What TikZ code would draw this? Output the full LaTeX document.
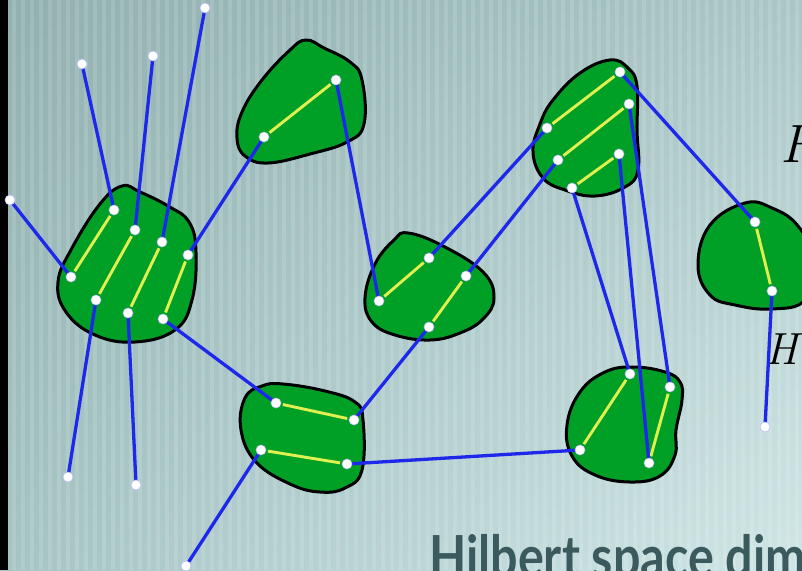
\documentclass[tikz,border=0pt]{standalone}
\usepackage{fontspec}
\usepackage{graphicx}
\usetikzlibrary{shadings}
\newfontfamily\titlefont{Lato}
\definecolor{bgA}{RGB}{146,176,176}
\definecolor{bgB}{RGB}{170,198,198}
\definecolor{bgC}{RGB}{166,196,196}
\definecolor{bgD}{RGB}{208,230,230}
\definecolor{blobgreen}{RGB}{0,160,38}
\definecolor{lineblue}{RGB}{30,40,235}
\definecolor{lineyellow}{RGB}{225,240,80}
\definecolor{titlec}{RGB}{58,90,94}
\pgfdeclarelayer{front}
\pgfsetlayers{main,front}
\begin{document}
\begin{tikzpicture}[x=1pt,y=-1pt,
  blob/.style={fill=blobgreen, draw=black, line width=3pt, line join=round},
  bl/.style={draw=lineblue, line width=3.3pt},
  yl/.style={draw=lineyellow, line width=2.9pt, shorten <=7pt, shorten >=7pt},
  dot/.style={circle, fill=white, draw=lineblue!30, line width=0.6pt, minimum size=10pt, inner sep=0pt},
  mathlbl/.style={anchor=base west, inner sep=0pt, text=black}]
\useasboundingbox (0,0) rectangle (802,570);
\clip (0,0) rectangle (802,570);
% background
\shade[upper left=bgA, upper right=bgB, lower left=bgC, lower right=bgD] (0,0) rectangle (802,570);
\foreach \i in {0,...,88} \fill[white,opacity=0.13] ({12+9*\i},0) rectangle ++(4,570);
\fill[black] (0,0) rectangle (8,570);
% text
\node[anchor=base west, inner sep=0pt, text=titlec, font=\titlefont\bfseries\fontsize{58}{64}\selectfont] (title) at (429,577) {\scalebox{0.835}[1]{Hilbert space dim}};
\node[mathlbl, font=\itshape\fontsize{54}{60}\selectfont] (lblF) at (780,162) {F};
\node[mathlbl, font=\itshape\fontsize{45}{50}\selectfont] (lblH) at (765,364) {H};
% blobs
\draw[blob] plot[smooth cycle, tension=0.7] coordinates {(122,186) (140,192) (168,206) (189,222) (196,252) (192,300) (175,330) (135,342) (95,335) (66,312) (58,282) (72,248) (100,204)};
\draw[blob] plot[smooth cycle, tension=0.7] coordinates {(306,40) (324,48) (350,62) (362,80) (364,124) (347,142) (310,154) (268,163) (245,156) (237,138) (242,112) (262,80) (290,50)};
\draw[blob] plot[smooth cycle, tension=0.7] coordinates {(408,233) (443,246) (483,272) (494,298) (483,319) (460,333) (430,340) (395,335) (372,322) (365,298) (375,264) (394,240)};
\draw[blob] plot[smooth cycle, tension=0.7] coordinates {(283,384) (325,391) (355,402) (363,420) (362,470) (345,488) (320,492) (290,484) (256,462) (241,430) (245,398) (262,386)};
\draw[blob] plot[smooth cycle, tension=0.7] coordinates {(610,60) (628,68) (637,86) (637,130) (638,170) (625,187) (595,196) (565,190) (543,178) (533,152) (540,124) (553,100) (580,73)};
\draw[blob] plot[smooth cycle, tension=0.7] coordinates {(745,203) (772,208) (798,226) (815,262) (805,300) (772,309) (735,305) (710,295) (698,265) (710,225)};
\draw[blob] plot[smooth cycle, tension=0.7] coordinates {(633,367) (665,372) (680,382) (682,400) (676,430) (675,455) (660,476) (630,482) (595,475) (572,456) (567,425) (580,392) (605,372)};
% dots
\begin{pgfonlayer}{front}
\foreach \n/\p in {a1/{71,277}, a2/{114,210}, a3/{135,230}, a4/{162,242}, a5/{188,255}, a6/{96,300}, a7/{128,313}, a8/{163,319},
  fa1/{10,200}, fa2/{82,64}, fa3/{153,56}, fa4/{205,8}, fa6/{68,477}, fa7/{136,485}, fd3/{186,566}, fg2/{765,427},
  b1/{264,137}, b2/{336,80}, c1/{379,301}, c2/{429,258}, c3/{466,276}, c4/{429,327},
  d1/{276,403}, d2/{354,420}, d3/{261,450}, d4/{347,464},
  f1/{547,128}, f2/{620,72}, f3/{558,160}, f4/{629,104}, f5/{572,188}, f6/{619,154},
  g1/{755,222}, g2/{772,291}, h1/{630,374}, h2/{670,387}, h3/{649,463}, h4/{580,450}}
  \node[dot] (\n) at (\p) {};
\end{pgfonlayer}
% yellow bonds
\foreach \u/\v in {a2/a1, a3/a6, a4/a7, a5/a8, b1/b2, c1/c2, c3/c4, d1/d2, d3/d4, f1/f2, f3/f4, f5/f6, g1/g2, h1/h4, h2/h3}
  \draw[yl] (\u.center) -- (\v.center);
% blue links
\foreach \u/\v in {a1/fa1, a2/fa2, a3/fa3, a4/fa4, a5/b1, a6/fa6, a7/fa7, a8/d1, b2/c1, c2/f1, c3/f3, c4/d2, d3/fd3, d4/h4, f2/g1, f4/h2, f5/h1, f6/h3, g2/fg2}
  \draw[bl] (\u.center) -- (\v.center);
\end{tikzpicture}
\end{document}
